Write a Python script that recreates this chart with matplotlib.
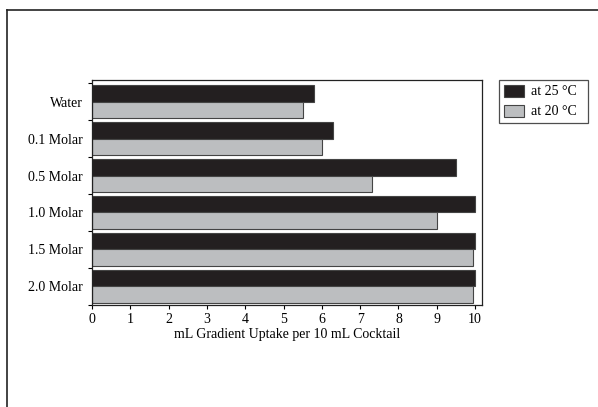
import matplotlib.pyplot as plt
from matplotlib.lines import Line2D
from matplotlib.ticker import FixedLocator

plt.rcParams['font.family'] = ['Liberation Serif', 'DejaVu Serif']
plt.rcParams['font.size'] = 10

categories = ['Water', '0.1 Molar', '0.5 Molar', '1.0 Molar', '1.5 Molar', '2.0 Molar']
uptake_25 = [5.8, 6.3, 9.5, 10.0, 10.0, 10.0]
uptake_20 = [5.5, 6.0, 7.3, 9.0, 9.95, 9.95]
x_ticks = list(range(0, 11))

DARK = '#231f20'
GRAY = '#bcbec0'
BAR_H = 0.44

fig = plt.figure(figsize=(5.98, 4.07), dpi=100)
ax = fig.add_axes([0.154, 0.251, 0.652, 0.552])

pos = list(range(len(categories)))
ax.barh([p - BAR_H / 2 for p in pos], uptake_25, height=BAR_H, color=DARK,
        edgecolor='#444444', linewidth=0.8, label='at 25 °C  ')
ax.barh([p + BAR_H / 2 for p in pos], uptake_20, height=BAR_H, color=GRAY,
        edgecolor='#444444', linewidth=0.8, label='at 20 °C  ')

ax.set_xlim(0, 10.18)
ax.set_ylim(5.5, -0.58)
ax.set_xticks(x_ticks)
ax.set_yticks(pos)
ax.set_yticklabels(categories)
ax.yaxis.set_minor_locator(FixedLocator([p - 0.5 for p in pos] + [5.5]))
ax.tick_params(axis='y', which='major', length=0, pad=7)
ax.tick_params(axis='y', which='minor', length=3, width=0.8)
ax.tick_params(axis='x', length=3, width=0.8, pad=3)
for s in ax.spines.values():
    s.set_linewidth(0.9)
    s.set_color('#222222')
ax.set_xlabel('mL Gradient Uptake per 10 mL Cocktail', labelpad=1)

leg = fig.legend(loc='upper left', bbox_to_anchor=(0.835, 0.804), frameon=True,
                 fancybox=False, edgecolor='#222222', handlelength=1.45,
                 handleheight=0.95, handletextpad=0.45, borderpad=0.35,
                 labelspacing=0.45, borderaxespad=0)
leg.get_frame().set_linewidth(0.9)

# outer frame, left and top edges only
fig.add_artist(Line2D([7 / 598, 7 / 598], [0, 1 - 10 / 407], transform=fig.transFigure,
                      color='#222222', linewidth=1.2))
fig.add_artist(Line2D([7 / 598, 1], [1 - 10 / 407, 1 - 10 / 407], transform=fig.transFigure,
                      color='#222222', linewidth=1.2))

fig.savefig('out.png', dpi=100)
